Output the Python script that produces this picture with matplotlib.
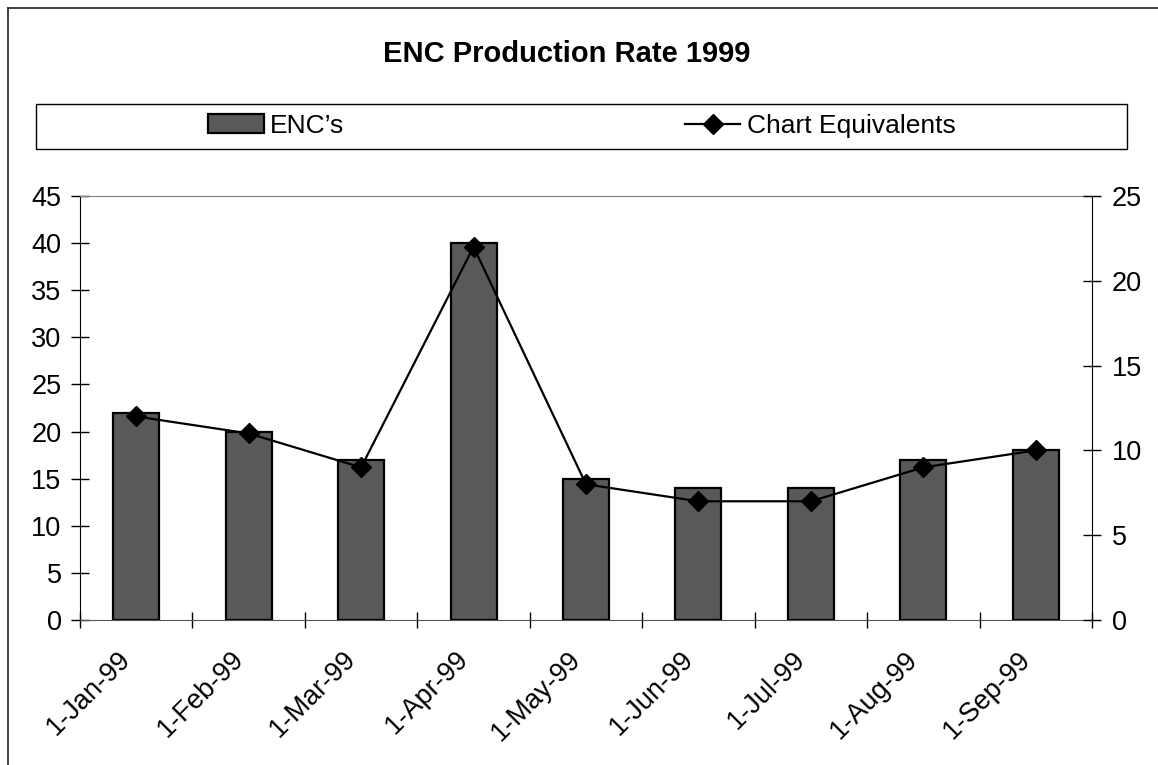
import matplotlib.pyplot as plt
import numpy as np
from matplotlib.lines import Line2D
from matplotlib.patches import Patch, Rectangle

plt.rcParams['font.family'] = ['Liberation Sans', 'DejaVu Sans']

months = ['1-Jan-99', '1-Feb-99', '1-Mar-99', '1-Apr-99', '1-May-99',
          '1-Jun-99', '1-Jul-99', '1-Aug-99', '1-Sep-99']
encs = [22, 20, 17, 40, 15, 14, 14, 17, 18]
chart_equiv = [12, 11, 9, 22, 8, 7, 7, 9, 10]

W, H = 1158, 765
fig = plt.figure(figsize=(W / 100, H / 100), dpi=100)

# outer chart border (top and left edges visible)
fig.add_artist(Line2D([8 / W, 8 / W], [0, 1 - 8 / H], transform=fig.transFigure, color='#222222', lw=1.2))
fig.add_artist(Line2D([8 / W, 1], [1 - 8 / H, 1 - 8 / H], transform=fig.transFigure, color='#222222', lw=1.2))

ax = fig.add_axes([80 / W, 145 / H, 1012 / W, 424 / H])
x = np.arange(len(months))
ax.bar(x, encs, width=0.41, color='#595959', edgecolor='black', linewidth=1.6, zorder=2)
ax.set_xlim(-0.5, len(months) - 0.5)
ax.set_ylim(0, 45)
ax.set_yticks(np.arange(0, 46, 5))

ax.set_xticks(np.arange(-0.5, len(months), 1.0))
ax.set_xticklabels([])
ax.set_xticks(x, minor=True)
ax.set_xticklabels(months, minor=True, rotation=45, ha='right', va='bottom',
                   rotation_mode='anchor', fontsize=19.5)
ax.tick_params(axis='x', which='minor', length=0, pad=32)
ax.tick_params(axis='x', which='major', direction='inout', length=12, width=1)
ax.tick_params(axis='y', direction='inout', length=12.5, width=1, labelsize=19.5, pad=7)

ax.spines['top'].set_color('#808080')
ax.spines['right'].set_visible(False)
ax.spines['bottom'].set_color('#555555')

ax2 = ax.twinx()
ax2.plot(x, chart_equiv, color='black', lw=1.6, marker='D', markersize=10, zorder=3)
ax2.set_ylim(0, 25)
ax2.set_yticks(np.arange(0, 26, 5))
ax2.tick_params(axis='y', direction='inout', length=12.5, width=1, labelsize=19.5, pad=8)
for s in ['top', 'left', 'bottom']:
    ax2.spines[s].set_visible(False)

fig.text(567 / W, 1 - 62 / H, 'ENC Production Rate 1999', ha='center', va='baseline',
         fontsize=21, fontweight='bold')

# legend strip
fig.add_artist(Rectangle((36 / W, 1 - 149 / H), (1127 - 36) / W, 45 / H,
                         transform=fig.transFigure, fill=False, ec='black', lw=1))
handles = [Patch(facecolor='#595959', edgecolor='black', linewidth=1.6),
           Line2D([], [], color='black', lw=1.6, marker='D', markersize=10)]
fig.legend(handles, ["ENC\u2019s", 'Chart Equivalents'], loc='center',
           bbox_to_anchor=(582 / W, 1 - 126 / H), ncol=2, frameon=False, fontsize=19,
           columnspacing=12.9, handlelength=2.1, handletextpad=0.25, handleheight=0.75)

fig.savefig('out.png', dpi=100)
